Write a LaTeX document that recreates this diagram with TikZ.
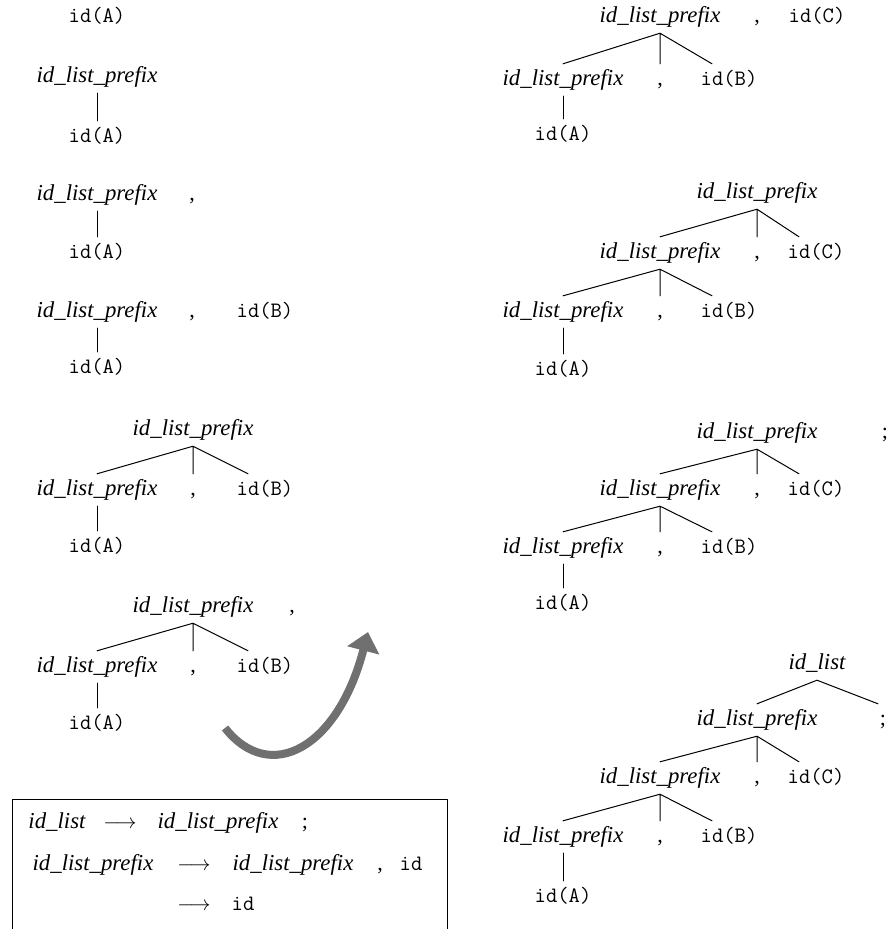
\documentclass[tikz,border=0pt]{standalone}
\usepackage{fontspec}
\setmainfont{Liberation Serif}
\usetikzlibrary{arrows.meta}
\definecolor{arrowgray}{RGB}{112,112,112}
\tikzset{
  nt/.style={font=\fontsize{22.8}{27}\selectfont\itshape, inner xsep=0pt, inner ysep=6pt, text height=15pt, text depth=5pt},
  tok/.style={font=\fontsize{22}{26}\selectfont\ttfamily, inner xsep=0pt, inner ysep=6pt, text height=15pt, text depth=5pt},
  sym/.style={font=\fontsize{22}{26}\selectfont, inner xsep=0pt, inner ysep=6pt, text height=15pt, text depth=5pt},
  branch/.style={line width=1pt},
}
\begin{document}
\begin{tikzpicture}[x=1pt, y=-1pt, line join=round, line cap=round]
			\useasboundingbox (0,0) rectangle (892,929);
			% left column
			\node[tok] (aA) at (97,17) {id(A)};
			\node[nt] (bP) at (97,77) {id\_list\_prefix};
			\node[tok] (bA) at (97,137) {id(A)};
			\draw[branch] (bP.south) -- (bA.north);
			\node[nt] (cP) at (97,195) {id\_list\_prefix};
			\node[sym] (cc) at (192,195) {,};
			\node[tok] (cA) at (97,253) {id(A)};
			\draw[branch] (cP.south) -- (cA.north);
			\node[nt] (dP) at (97,312) {id\_list\_prefix};
			\node[sym] (dc) at (192,312) {,};
			\node[tok] (dB) at (265,312) {id(B)};
			\node[tok] (dA) at (97,368) {id(A)};
			\draw[branch] (dP.south) -- (dA.north);
			\node[nt] (eR) at (193,430) {id\_list\_prefix};
			\node[nt] (eP) at (97,490) {id\_list\_prefix};
			\node[sym] (ec) at (193,490) {,};
			\node[tok] (eB) at (265,490) {id(B)};
			\node[tok] (eA) at (97,547) {id(A)};
			\draw[branch] (eP.north) -- (eR.south) -- (ec.north) (eR.south) -- ([xshift=-17pt]eB.north);
			\draw[branch] (eP.south) -- (eA.north);
			\node[nt] (fR) at (193,607) {id\_list\_prefix};
			\node[sym] (fs) at (292,607) {,};
			\node[nt] (fP) at (97,667) {id\_list\_prefix};
			\node[sym] (fc) at (193,667) {,};
			\node[tok] (fB) at (265,667) {id(B)};
			\node[tok] (fA) at (97,724) {id(A)};
			\draw[branch] (fP.north) -- (fR.south) -- (fc.north) (fR.south) -- ([xshift=-17pt]fB.north);
			\draw[branch] (fP.south) -- (fA.north);
			% the big arrow
			\draw[arrowgray, line width=8pt, line cap=butt, -{Triangle[length=19pt,width=32pt]}]
				(225,728) .. controls (270,785) and (338,748) .. (368,632);
			% grammar box
			\draw[line width=1pt, line cap=butt] (12,935) -- (12,799) -- (447,799) -- (447,935);
			\node[nt] (g1L) at (57,823) {id\_list};
			\node[sym] (g1a) at (120,823) {$\longrightarrow$};
			\node[nt] (g1R) at (218,823) {id\_list\_prefix};
			\node[sym] (g1s) at (305,823) {;};
			\node[nt] (g2L) at (93,865) {id\_list\_prefix};
			\node[sym] (g2a) at (194,865) {$\longrightarrow$};
			\node[nt] (g2R) at (293,865) {id\_list\_prefix};
			\node[sym] (g2c) at (380,865) {,};
			\node[tok] (g2id) at (411,865) {id};
			\node[sym] (g3a) at (194,905) {$\longrightarrow$};
			\node[tok] (g3id) at (243,905) {id};
			% right column
			\node[nt] (hR) at (660,17) {id\_list\_prefix};
			\node[sym] (hs) at (757,17) {,};
			\node[tok] (hC) at (817,17) {id(C)};
			\node[nt] (hP) at (563,80) {id\_list\_prefix};
			\node[sym] (hc) at (660,80) {,};
			\node[tok] (hB) at (729,80) {id(B)};
			\node[tok] (hA) at (563,135) {id(A)};
			\draw[branch] (hP.north) -- (hR.south) -- (hc.north) (hR.south) -- ([xshift=-17pt]hB.north);
			\draw[branch] (hP.south) -- (hA.north);
			\node[nt] (iR) at (757,193) {id\_list\_prefix};
			\node[nt] (iQ) at (660,253) {id\_list\_prefix};
			\node[sym] (iq) at (757,253) {,};
			\node[tok] (iC) at (816,253) {id(C)};
			\node[nt] (iP) at (563,312) {id\_list\_prefix};
			\node[sym] (ic) at (660,312) {,};
			\node[tok] (iB) at (729,312) {id(B)};
			\node[tok] (iA) at (563,370) {id(A)};
			\draw[branch] (iQ.north) -- (iR.south) -- (iq.north) (iR.south) -- ([xshift=-17pt]iC.north);
			\draw[branch] (iP.north) -- (iQ.south) -- (ic.north) (iQ.south) -- ([xshift=-17pt]iB.north);
			\draw[branch] (iP.south) -- (iA.north);
			\node[nt] (jR) at (757,433) {id\_list\_prefix};
			\node[sym] (js) at (885,433) {;};
			\node[nt] (jQ) at (660,490) {id\_list\_prefix};
			\node[sym] (jq) at (757,490) {,};
			\node[tok] (jC) at (816,490) {id(C)};
			\node[nt] (jP) at (563,548) {id\_list\_prefix};
			\node[sym] (jc) at (660,548) {,};
			\node[tok] (jB) at (729,548) {id(B)};
			\node[tok] (jA) at (563,604) {id(A)};
			\draw[branch] (jQ.north) -- (jR.south) -- (jq.north) (jR.south) -- ([xshift=-17pt]jC.north);
			\draw[branch] (jP.north) -- (jQ.south) -- (jc.north) (jQ.south) -- ([xshift=-17pt]jB.north);
			\draw[branch] (jP.south) -- (jA.north);
			\node[nt] (kL) at (817,664) {id\_list};
			\node[nt] (kR) at (757,720) {id\_list\_prefix};
			\node[sym] (ks) at (883,720) {;};
			\node[nt] (kQ) at (660,778) {id\_list\_prefix};
			\node[sym] (kq) at (757,778) {,};
			\node[tok] (kC) at (816,778) {id(C)};
			\node[nt] (kP) at (563,837) {id\_list\_prefix};
			\node[sym] (kc) at (660,837) {,};
			\node[tok] (kB) at (729,837) {id(B)};
			\node[tok] (kA) at (563,897) {id(A)};
			\draw[branch] (kR.north) -- (kL.south) -- ([xshift=-5pt]ks.north);
			\draw[branch] (kQ.north) -- (kR.south) -- (kq.north) (kR.south) -- ([xshift=-17pt]kC.north);
			\draw[branch] (kP.north) -- (kQ.south) -- (kc.north) (kQ.south) -- ([xshift=-17pt]kB.north);
			\draw[branch] (kP.south) -- (kA.north);
\end{tikzpicture}
\end{document}
